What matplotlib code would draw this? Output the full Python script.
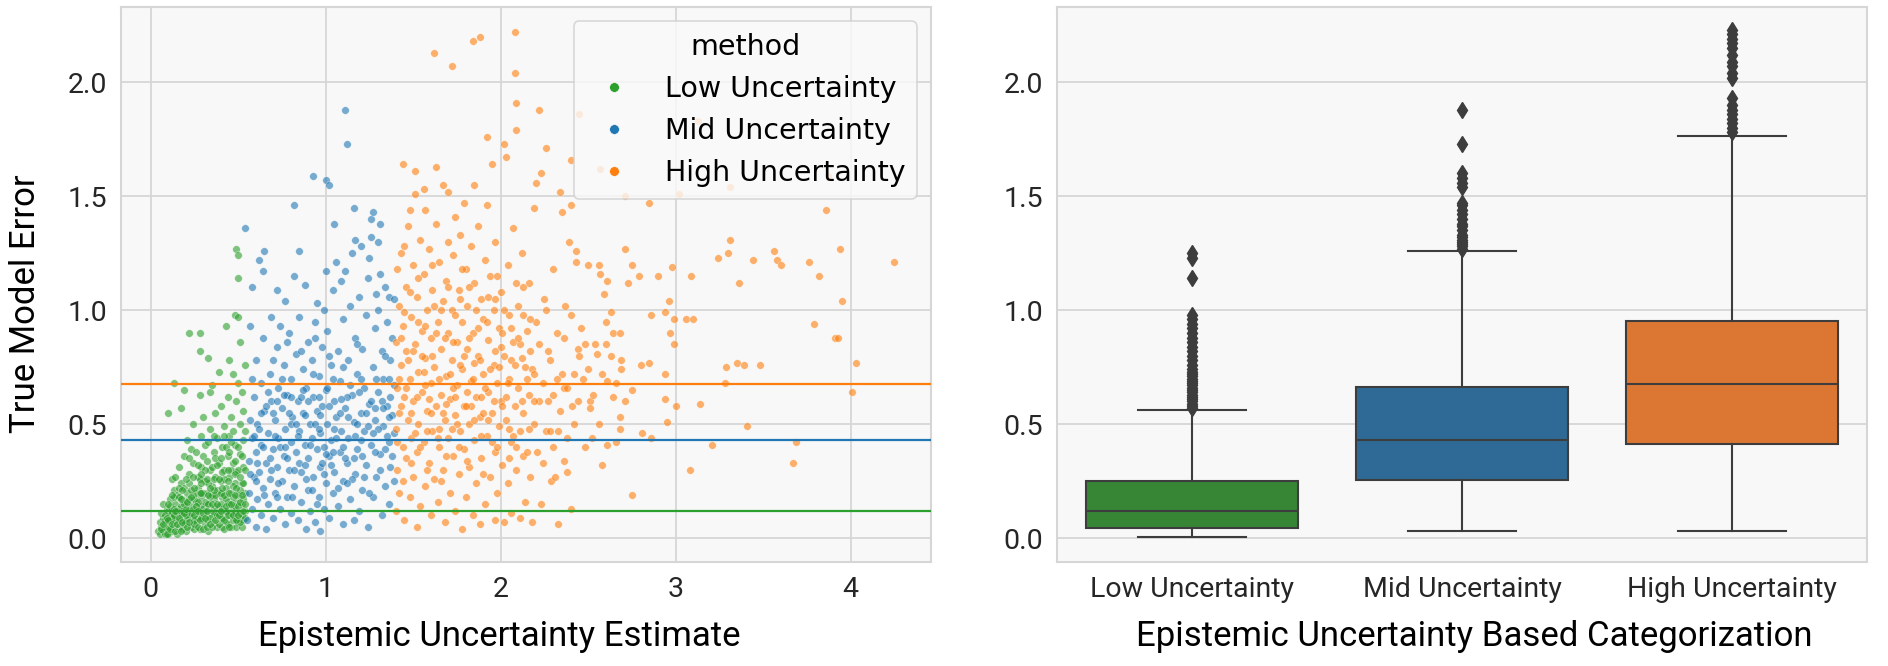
import numpy as np
import matplotlib.pyplot as plt
from matplotlib.lines import Line2D

# scatter points (epistemic uncertainty, true error)
low_pts = [
    (0.04, 0.03), (0.05, 0.02), (0.06, 0.05), (0.05, 0.07), (0.07, 0.03), (0.07, 0.09), (0.08, 0.02), (0.06, 0.11),
    (0.08, 0.06), (0.09, 0.13), (0.07, 0.15), (0.10, 0.02), (0.10, 0.05), (0.11, 0.08), (0.10, 0.12), (0.11, 0.17),
    (0.12, 0.03), (0.12, 0.11), (0.13, 0.21), (0.12, 0.26), (0.10, 0.55), (0.13, 0.68), (0.11, 0.14), (0.13, 0.06),
    (0.14, 0.15), (0.14, 0.27), (0.15, 0.02), (0.15, 0.09), (0.16, 0.05), (0.16, 0.13), (0.15, 0.19), (0.17, 0.24),
    (0.17, 0.57), (0.16, 0.31), (0.18, 0.04), (0.18, 0.10), (0.18, 0.17), (0.19, 0.36), (0.19, 0.65), (0.17, 0.08),
    (0.19, 0.22), (0.20, 0.03), (0.20, 0.07), (0.21, 0.12), (0.20, 0.16), (0.21, 0.20), (0.22, 0.28), (0.21, 0.43),
    (0.22, 0.90), (0.23, 0.05), (0.23, 0.14), (0.24, 0.09), (0.24, 0.19), (0.24, 0.33), (0.24, 0.50), (0.23, 0.39),
    (0.22, 0.24), (0.25, 0.12), (0.25, 0.04), (0.26, 0.07), (0.26, 0.16), (0.27, 0.22), (0.27, 0.27), (0.28, 0.11),
    (0.28, 0.63), (0.28, 0.82), (0.28, 0.90), (0.28, 0.04), (0.29, 0.31), (0.29, 0.45), (0.29, 0.18), (0.30, 0.09),
    (0.30, 0.36), (0.30, 0.13), (0.30, 0.53), (0.31, 0.06), (0.31, 0.25), (0.31, 0.41), (0.32, 0.15), (0.32, 0.20),
    (0.33, 0.79), (0.33, 0.03), (0.33, 0.10), (0.34, 0.30), (0.34, 0.48), (0.34, 0.64), (0.35, 0.67), (0.35, 0.12),
    (0.35, 0.23), (0.36, 0.07), (0.36, 0.17), (0.36, 0.38), (0.37, 0.55), (0.37, 0.27), (0.37, 0.10), (0.38, 0.44),
    (0.38, 0.21), (0.38, 0.05), (0.39, 0.73), (0.39, 0.14), (0.39, 0.33), (0.40, 0.09), (0.40, 0.25), (0.40, 0.58),
    (0.41, 0.18), (0.41, 0.40), (0.41, 0.05), (0.42, 0.12), (0.42, 0.30), (0.42, 0.49), (0.43, 0.93), (0.43, 0.22),
    (0.43, 0.07), (0.44, 0.16), (0.44, 0.36), (0.44, 0.62), (0.45, 0.78), (0.45, 0.10), (0.45, 0.27), (0.45, 0.45),
    (0.46, 0.05), (0.46, 0.20), (0.46, 0.53), (0.47, 0.13), (0.47, 0.33), (0.47, 0.72), (0.48, 0.09), (0.48, 0.24),
    (0.48, 0.41), (0.48, 0.98), (0.49, 0.16), (0.49, 0.60), (0.49, 0.29), (0.49, 1.27), (0.50, 1.24), (0.50, 0.07),
    (0.50, 0.19), (0.50, 0.68), (0.50, 0.97), (0.50, 1.14), (0.51, 0.37), (0.51, 0.86), (0.51, 0.11), (0.51, 0.50),
    (0.52, 0.24), (0.52, 0.64), (0.52, 0.15), (0.53, 0.08), (0.53, 0.43), (0.53, 0.31), (0.53, 0.56), (0.54, 0.20),
    (0.54, 0.12), (0.54, 0.76), (0.54, 0.47), (0.52, 0.36), (0.09, 0.04), (0.11, 0.10), (0.14, 0.08), (0.17, 0.14),
    (0.19, 0.06), (0.22, 0.10), (0.25, 0.17), (0.27, 0.09), (0.29, 0.14), (0.32, 0.08), (0.34, 0.18), (0.36, 0.11),
    (0.39, 0.20), (0.41, 0.13), (0.43, 0.17), (0.46, 0.11), (0.48, 0.14), (0.51, 0.21), (0.53, 0.17), (0.13, 0.18),
    (0.21, 0.09), (0.26, 0.20), (0.31, 0.16), (0.37, 0.14), (0.44, 0.06), (0.49, 0.05), (0.16, 0.22), (0.23, 0.21),
    (0.28, 0.26), (0.33, 0.24), (0.40, 0.15), (0.47, 0.23), (0.52, 0.05), (0.35, 0.31), (0.42, 0.26), (0.30, 0.20),
    (0.25, 0.08), (0.18, 0.12), (0.12, 0.09), (0.08, 0.10),
    (0.06, 0.04), (0.08, 0.08), (0.09, 0.02), (0.10, 0.15), (0.11, 0.04), (0.12, 0.19), (0.13, 0.13), (0.14, 0.03),
    (0.15, 0.12), (0.16, 0.18), (0.17, 0.03), (0.17, 0.11), (0.18, 0.21), (0.19, 0.15), (0.20, 0.10), (0.20, 0.26),
    (0.21, 0.05), (0.22, 0.17), (0.22, 0.35), (0.23, 0.11), (0.24, 0.27), (0.25, 0.06), (0.25, 0.22), (0.26, 0.12),
    (0.26, 0.38), (0.27, 0.05), (0.27, 0.16), (0.28, 0.20), (0.29, 0.09), (0.29, 0.24), (0.30, 0.04), (0.31, 0.12),
    (0.31, 0.30), (0.32, 0.05), (0.32, 0.26), (0.33, 0.15), (0.33, 0.42), (0.34, 0.09), (0.35, 0.19), (0.35, 0.05),
    (0.36, 0.26), (0.37, 0.19), (0.38, 0.10), (0.38, 0.32), (0.39, 0.06), (0.40, 0.20), (0.41, 0.09), (0.41, 0.29),
    (0.42, 0.04), (0.42, 0.19), (0.43, 0.12), (0.44, 0.25), (0.45, 0.15), (0.45, 0.05), (0.46, 0.30), (0.47, 0.08),
    (0.47, 0.18), (0.48, 0.34), (0.49, 0.11), (0.49, 0.22), (0.50, 0.14), (0.50, 0.30), (0.51, 0.07), (0.52, 0.10),
    (0.53, 0.24), (0.54, 0.09), (0.54, 0.30), (0.43, 0.40), (0.37, 0.35), (0.46, 0.42),
    (0.07, 0.06), (0.09, 0.09), (0.10, 0.08), (0.12, 0.06), (0.13, 0.10), (0.14, 0.12), (0.15, 0.06), (0.16, 0.09),
    (0.17, 0.17), (0.18, 0.07), (0.19, 0.11), (0.20, 0.13), (0.21, 0.16), (0.22, 0.07), (0.23, 0.18), (0.24, 0.13),
    (0.25, 0.10), (0.26, 0.14), (0.27, 0.12), (0.28, 0.08), (0.29, 0.20), (0.30, 0.11), (0.31, 0.09), (0.32, 0.12),
    (0.33, 0.19), (0.34, 0.06), (0.35, 0.15), (0.36, 0.21), (0.37, 0.08), (0.38, 0.15), (0.39, 0.10), (0.40, 0.12),
    (0.41, 0.22), (0.42, 0.08), (0.43, 0.14), (0.44, 0.10), (0.45, 0.20), (0.46, 0.15), (0.47, 0.10), (0.48, 0.19),
    (0.49, 0.08), (0.50, 0.10), (0.51, 0.16), (0.52, 0.19), (0.53, 0.12), (0.54, 0.15), (0.44, 0.30), (0.39, 0.26),
    (0.34, 0.22), (0.29, 0.28), (0.48, 0.28), (0.51, 0.27), (0.40, 0.35), (0.45, 0.38), (0.50, 0.40), (0.42, 0.45),
    (0.47, 0.47), (0.36, 0.45), (0.32, 0.34), (0.27, 0.32),
]

mid_pts = [
    (0.55, 0.08), (0.56, 0.20), (0.56, 0.34), (0.57, 0.52), (0.57, 0.93), (0.58, 0.13), (0.58, 0.44), (0.58, 1.10),
    (0.59, 0.27), (0.59, 0.62), (0.60, 0.05), (0.60, 0.38), (0.60, 0.78), (0.61, 0.17), (0.61, 0.50), (0.62, 0.29),
    (0.62, 1.22), (0.63, 0.10), (0.63, 0.68), (0.63, 0.41), (0.64, 0.22), (0.64, 0.88), (0.64, 1.17), (0.65, 0.56),
    (0.65, 1.26), (0.66, 0.04), (0.66, 0.33), (0.54, 1.36), (0.67, 0.46), (0.67, 0.15), (0.68, 0.72), (0.68, 0.26),
    (0.69, 0.60), (0.69, 0.97), (0.70, 0.09), (0.70, 0.39), (0.71, 0.20), (0.71, 0.52), (0.72, 0.84), (0.72, 1.09),
    (0.72, 0.31), (0.73, 0.66), (0.73, 0.44), (0.74, 0.13), (0.74, 0.93), (0.75, 0.25), (0.75, 0.57), (0.76, 0.36),
    (0.76, 0.76), (0.77, 0.06), (0.77, 1.04), (0.77, 0.48), (0.78, 0.18), (0.78, 0.63), (0.79, 0.30), (0.79, 0.90),
    (0.80, 0.42), (0.80, 0.11), (0.80, 0.70), (0.81, 0.53), (0.82, 1.46), (0.82, 0.23), (0.82, 1.15), (0.83, 0.81),
    (0.83, 0.38), (0.84, 0.08), (0.84, 0.60), (0.85, 1.26), (0.85, 0.47), (0.85, 0.97), (0.86, 0.16), (0.86, 0.29),
    (0.87, 0.74), (0.87, 0.55), (0.88, 0.41), (0.88, 1.11), (0.89, 0.04), (0.89, 0.66), (0.90, 0.21), (0.90, 0.86),
    (0.90, 0.35), (0.91, 0.50), (0.91, 0.12), (0.92, 0.78), (0.92, 0.44), (0.93, 1.59), (0.93, 0.27), (0.93, 0.62),
    (0.94, 0.95), (0.94, 0.07), (0.95, 0.39), (0.95, 1.03), (0.95, 0.56), (0.96, 0.18), (0.96, 0.71), (0.97, 0.03),
    (0.97, 0.46), (0.97, 0.31), (0.98, 0.84), (0.98, 0.58), (0.99, 1.00), (0.99, 0.13), (0.99, 0.40), (1.00, 1.57),
    (1.00, 1.17), (1.00, 0.24), (1.00, 0.65), (1.01, 0.50), (1.01, 0.91), (1.02, 1.55), (1.02, 0.36), (1.02, 0.09),
    (1.03, 0.76), (1.03, 0.43), (1.04, 0.20), (1.04, 1.09), (1.05, 0.60), (1.05, 1.38), (1.05, 0.29), (1.06, 1.21),
    (1.06, 0.53), (1.07, 0.14), (1.07, 0.82), (1.08, 0.38), (1.08, 0.69), (1.09, 0.47), (1.09, 1.13), (1.10, 0.06),
    (1.10, 0.25), (1.10, 0.96), (1.11, 1.88), (1.11, 0.57), (1.11, 1.17), (1.12, 1.73), (1.12, 0.33), (1.13, 0.78),
    (1.13, 0.44), (1.14, 0.17), (1.14, 1.02), (1.15, 0.63), (1.15, 1.25), (1.16, 1.45), (1.16, 0.51), (1.16, 0.08),
    (1.17, 0.88), (1.17, 1.31), (1.17, 0.28), (1.18, 0.39), (1.18, 0.72), (1.19, 0.12), (1.19, 1.06), (1.20, 1.28),
    (1.20, 0.55), (1.21, 0.21), (1.21, 0.83), (1.22, 0.47), (1.22, 0.66), (1.23, 0.32), (1.23, 0.98), (1.24, 0.05),
    (1.24, 1.14), (1.25, 0.59), (1.25, 1.23), (1.26, 1.40), (1.26, 0.41), (1.26, 1.32), (1.27, 1.43), (1.27, 0.75),
    (1.27, 0.18), (1.28, 0.52), (1.28, 0.92), (1.29, 0.27), (1.29, 1.07), (1.30, 0.64), (1.30, 1.30), (1.30, 1.00),
    (1.31, 0.37), (1.31, 1.16), (1.31, 1.38), (1.32, 0.10), (1.32, 0.82), (1.33, 0.49), (1.33, 0.70), (1.34, 1.10),
    (1.34, 0.23), (1.35, 0.58), (1.35, 0.95), (1.36, 0.42), (1.36, 0.15), (1.36, 1.06), (1.37, 0.78), (1.37, 0.31),
    (1.38, 0.54), (1.38, 0.88), (1.39, 0.46), (1.39, 0.67), (1.39, 1.05), (0.62, 0.48), (0.70, 0.55), (0.78, 0.35),
    (0.86, 0.62), (0.94, 0.50), (1.02, 0.58), (1.10, 0.40), (1.18, 0.50), (1.26, 0.60), (1.34, 0.39), (0.66, 0.58),
    (0.74, 0.40), (0.82, 0.30), (0.90, 0.60), (0.98, 0.33), (1.06, 0.44), (1.14, 0.67), (1.22, 0.27), (1.30, 0.48),
    (1.38, 0.36), (0.60, 0.25), (0.68, 0.35), (0.76, 0.63), (0.84, 0.45), (0.92, 0.21), (1.00, 0.37), (1.08, 0.55),
    (1.16, 0.35), (1.24, 0.49), (1.32, 0.60), (0.88, 0.54), (0.96, 0.62), (1.04, 0.70), (1.12, 0.62), (1.20, 0.43),
    (1.28, 0.38), (0.72, 0.60), (0.80, 0.50), (0.58, 0.70), (1.36, 0.70),
    (0.57, 0.28), (0.59, 0.45), (0.61, 0.33), (0.63, 0.55), (0.65, 0.19), (0.67, 0.64), (0.69, 0.30), (0.71, 0.45),
    (0.73, 0.24), (0.75, 0.70), (0.77, 0.40), (0.79, 0.55), (0.81, 0.18), (0.83, 0.50), (0.85, 0.33), (0.87, 0.65),
    (0.89, 0.26), (0.91, 0.41), (0.93, 0.72), (0.95, 0.15), (0.97, 0.54), (0.99, 0.28), (1.01, 0.66), (1.03, 0.32),
    (1.05, 0.48), (1.07, 0.22), (1.09, 0.61), (1.11, 0.35), (1.13, 0.53), (1.15, 0.26), (1.17, 0.45), (1.19, 0.64),
    (1.21, 0.36), (1.23, 0.55), (1.25, 0.20), (1.27, 0.46), (1.29, 0.70), (1.31, 0.30), (1.33, 0.57), (1.35, 0.45),
    (1.37, 0.62), (1.39, 0.25), (0.64, 0.40), (0.72, 0.18), (0.80, 0.62), (0.88, 0.32), (0.96, 0.48), (1.04, 0.38),
    (1.12, 0.24), (1.20, 0.70), (1.28, 0.57), (1.36, 0.53), (0.70, 0.78), (0.86, 0.82), (1.02, 0.80), (1.18, 0.85),
    (1.34, 0.80), (0.78, 0.86), (0.94, 0.88), (1.10, 0.75),
]

high_pts = [
    (1.40, 0.12), (1.40, 0.48), (1.40, 0.86), (1.41, 1.18), (1.41, 0.30), (1.41, 0.66), (1.42, 1.02), (1.42, 0.20),
    (1.42, 0.55), (1.43, 0.76), (1.43, 1.25), (1.44, 0.40), (1.44, 1.64), (1.44, 0.93), (1.45, 0.08), (1.45, 0.62),
    (1.46, 0.35), (1.46, 1.10), (1.46, 0.82), (1.47, 0.52), (1.47, 1.37), (1.48, 0.18), (1.48, 1.44), (1.48, 0.70),
    (1.49, 0.44), (1.49, 0.97), (1.50, 1.20), (1.50, 0.27), (1.50, 0.60), (1.51, 1.51), (1.51, 0.85), (1.51, 1.61),
    (1.52, 0.38), (1.52, 0.05), (1.52, 1.06), (1.53, 0.73), (1.53, 0.50), (1.54, 0.14), (1.54, 1.31), (1.55, 0.91),
    (1.55, 0.64), (1.56, 1.53), (1.56, 0.42), (1.56, 1.16), (1.57, 1.44), (1.57, 0.23), (1.57, 0.79), (1.58, 0.56),
    (1.58, 1.00), (1.59, 0.33), (1.59, 1.27), (1.60, 0.10), (1.60, 0.68), (1.60, 0.88), (1.61, 0.47), (1.61, 1.09),
    (1.62, 2.13), (1.62, 0.26), (1.62, 0.75), (1.63, 1.63), (1.63, 1.38), (1.63, 0.58), (1.64, 0.16), (1.64, 0.95),
    (1.65, 0.40), (1.65, 1.21), (1.66, 0.63), (1.66, 0.83), (1.67, 1.55), (1.67, 0.30), (1.67, 1.04), (1.68, 0.52),
    (1.68, 0.07), (1.69, 1.13), (1.69, 0.71), (1.70, 1.52), (1.70, 0.44), (1.70, 0.90), (1.70, 1.30), (1.71, 0.20),
    (1.71, 0.61), (1.72, 2.07), (1.72, 1.00), (1.72, 0.78), (1.73, 0.36), (1.73, 1.24), (1.74, 0.54), (1.74, 0.12),
    (1.74, 1.41), (1.75, 0.86), (1.75, 0.67), (1.76, 0.28), (1.76, 1.09), (1.77, 0.47), (1.77, 1.33), (1.78, 0.04),
    (1.78, 0.74), (1.78, 0.95), (1.79, 1.47), (1.79, 0.39), (1.79, 0.58), (1.80, 1.18), (1.80, 0.18), (1.81, 0.83),
    (1.81, 1.02), (1.82, 0.50), (1.82, 0.31), (1.83, 1.28), (1.83, 0.69), (1.84, 2.18), (1.84, 0.10), (1.84, 0.90),
    (1.85, 1.55), (1.85, 0.43), (1.85, 1.12), (1.86, 0.62), (1.86, 0.24), (1.87, 0.80), (1.87, 1.37), (1.88, 2.20),
    (1.88, 0.06), (1.88, 0.53), (1.89, 1.05), (1.89, 0.35), (1.90, 0.72), (1.90, 0.96), (1.91, 1.22), (1.91, 0.15),
    (1.92, 1.76), (1.92, 1.46), (1.92, 0.45), (1.93, 0.64), (1.93, 0.87), (1.94, 0.27), (1.94, 1.15), (1.95, 1.64),
    (1.95, 0.55), (1.96, 0.76), (1.96, 1.00), (1.97, 0.08), (1.97, 0.38), (1.97, 1.30), (1.98, 0.68), (1.98, 0.20),
    (1.99, 0.92), (1.99, 0.49), (2.00, 1.08), (2.00, 0.60), (2.01, 0.32), (2.02, 1.73), (2.02, 0.80), (2.02, 0.07),
    (2.03, 1.67), (2.03, 0.52), (2.04, 1.20), (2.04, 0.24), (2.05, 0.70), (2.05, 0.98), (2.06, 0.42), (2.06, 0.11),
    (2.07, 1.36), (2.07, 0.86), (2.08, 2.22), (2.08, 2.04), (2.08, 0.58), (2.09, 1.91), (2.09, 1.79), (2.09, 0.30),
    (2.10, 1.02), (2.10, 0.66), (2.11, 0.09), (2.11, 0.47), (2.12, 1.25), (2.12, 0.79), (2.13, 0.36), (2.13, 0.55),
    (2.14, 0.16), (2.15, 0.91), (2.15, 0.38), (2.16, 1.12), (2.16, 0.63), (2.17, 0.27), (2.18, 0.74), (2.18, 0.07),
    (2.19, 1.45), (2.19, 0.50), (2.20, 1.56), (2.20, 0.95), (2.22, 1.88), (2.22, 0.60), (2.23, 1.60), (2.23, 0.15),
    (2.24, 0.33), (2.25, 1.05), (2.26, 1.71), (2.26, 0.47), (2.27, 0.82), (2.27, 0.60), (2.28, 0.47), (2.29, 0.25),
    (2.30, 0.63), (2.30, 1.18), (2.31, 0.27), (2.32, 0.90), (2.33, 0.06), (2.33, 0.47), (2.34, 1.52), (2.35, 1.43),
    (2.35, 0.72), (2.36, 0.66), (2.36, 0.34), (2.37, 1.02), (2.38, 0.44), (2.38, 0.29), (2.39, 1.30), (2.40, 0.13),
    (2.40, 1.66), (2.40, 1.46), (2.41, 0.58), (2.42, 0.72), (2.43, 1.26), (2.43, 1.21), (2.44, 0.83), (2.45, 0.80),
    (2.45, 1.86), (2.47, 0.70), (2.48, 0.85), (2.50, 1.20), (2.51, 0.60), (2.51, 0.57), (2.52, 0.44), (2.54, 0.85),
    (2.55, 0.81), (2.56, 1.20), (2.57, 1.16), (2.57, 1.62), (2.58, 0.32), (2.58, 0.72), (2.59, 1.07), (2.60, 0.85),
    (2.61, 0.69), (2.61, 1.13), (2.61, 0.41), (2.63, 0.99), (2.64, 0.62), (2.64, 0.90), (2.66, 0.68), (2.68, 0.90),
    (2.68, 0.53), (2.68, 0.48), (2.69, 0.74), (2.69, 0.78), (2.71, 0.60), (2.71, 1.27), (2.71, 1.50), (2.73, 1.12),
    (2.75, 0.19), (2.75, 0.65), (2.75, 1.20), (2.79, 1.15), (2.80, 0.76), (2.81, 0.46), (2.85, 0.77), (2.85, 1.47),
    (2.86, 0.44), (2.86, 0.98), (2.90, 1.15), (2.94, 0.72), (2.94, 0.99), (2.94, 0.61), (2.95, 0.51), (2.96, 1.04),
    (2.97, 0.90), (2.98, 1.19), (2.99, 0.85), (2.99, 0.96), (3.00, 0.58), (3.02, 1.51), (3.06, 0.96), (3.08, 0.30),
    (3.09, 1.15), (3.10, 0.96), (3.13, 1.83), (3.14, 0.59), (3.21, 0.41), (3.24, 1.23), (3.28, 0.68), (3.29, 0.75),
    (3.30, 1.25), (3.31, 1.31), (3.31, 1.54), (3.35, 0.77), (3.36, 1.12), (3.39, 0.76), (3.41, 0.49), (3.44, 1.22),
    (3.48, 0.76), (3.56, 1.26), (3.58, 1.22), (3.60, 1.20), (3.67, 0.33), (3.69, 0.42), (3.76, 1.21), (3.79, 0.94),
    (3.82, 1.15), (3.86, 1.44), (3.87, 1.59), (3.91, 0.88), (3.93, 0.88), (3.94, 1.27), (3.95, 1.04), (4.01, 0.64),
    (4.03, 0.77), (4.25, 1.21), (1.43, 0.58), (1.47, 0.78), (1.51, 0.46), (1.55, 0.80), (1.59, 0.61), (1.63, 0.90),
    (1.67, 0.55), (1.71, 0.72), (1.75, 0.50), (1.79, 0.80), (1.83, 0.58), (1.87, 0.92), (1.91, 0.66), (1.95, 0.42),
    (1.99, 0.75), (2.03, 0.62), (2.07, 0.45), (2.11, 0.85), (2.15, 0.70), (2.19, 0.60), (1.45, 0.99), (1.53, 0.95),
    (1.61, 1.20), (1.69, 0.36), (1.77, 1.05), (1.85, 0.77), (1.93, 1.06), (2.01, 0.90), (2.09, 1.12), (2.17, 0.82),
    (1.49, 0.33), (1.57, 0.67), (1.65, 0.48), (1.73, 0.86), (1.81, 0.64), (1.89, 0.45), (1.97, 0.82), (2.05, 0.35),
    (2.13, 0.98), (1.42, 0.70), (1.58, 0.47), (1.66, 1.00), (1.74, 0.62), (1.82, 1.10), (1.90, 0.55), (1.98, 1.15),
    (2.06, 0.78),
    (1.41, 0.42), (1.43, 0.88), (1.44, 0.25), (1.46, 0.66), (1.48, 1.08), (1.49, 0.55), (1.50, 0.82), (1.52, 0.62),
    (1.53, 1.14), (1.54, 0.40), (1.56, 0.73), (1.57, 0.93), (1.58, 0.30), (1.60, 0.55), (1.61, 0.80), (1.62, 1.02),
    (1.64, 0.44), (1.65, 0.70), (1.66, 0.25), (1.68, 0.88), (1.69, 0.59), (1.70, 1.10), (1.72, 0.48), (1.73, 0.66),
    (1.74, 0.98), (1.76, 0.40), (1.77, 0.76), (1.78, 1.18), (1.80, 0.58), (1.81, 0.34), (1.82, 0.88), (1.84, 0.70),
    (1.85, 0.52), (1.86, 1.00), (1.88, 0.78), (1.89, 0.62), (1.90, 0.28), (1.92, 0.95), (1.93, 0.52), (1.94, 0.74),
    (1.96, 0.60), (1.97, 1.05), (1.98, 0.40), (2.00, 0.84), (2.01, 0.58), (2.02, 1.00), (2.04, 0.68), (2.05, 0.48),
    (2.06, 0.92), (2.08, 0.76), (2.09, 0.40), (2.10, 0.88), (2.12, 0.60), (2.13, 1.10), (2.14, 0.75), (2.16, 0.48),
    (2.17, 0.96), (2.19, 0.72), (2.21, 0.38), (2.22, 0.85), (2.24, 0.68), (2.26, 1.00), (2.28, 0.78), (2.30, 0.40),
    (2.32, 0.70), (2.34, 0.56), (2.36, 0.88), (2.38, 0.66), (2.40, 0.98), (2.42, 0.50), (2.44, 0.60), (2.46, 0.92),
    (2.48, 0.40), (2.50, 0.74), (2.53, 0.63), (2.56, 0.50), (2.60, 0.95), (2.63, 0.80), (2.66, 0.42), (1.45, 1.28),
]

categories = ['Low Uncertainty', 'Mid Uncertainty', 'High Uncertainty']
medians = [0.118, 0.430, 0.675]
q1s = [0.045, 0.254, 0.412]
q3s = [0.251, 0.661, 0.952]
whis_lo = [0.006, 0.031, 0.032]
whis_hi = [0.561, 1.260, 1.763]
fliers = [
    [0.57, 0.58, 0.59, 0.60, 0.61, 0.62, 0.63, 0.64, 0.65, 0.66, 0.67, 0.68, 0.69, 0.70, 0.71, 0.72, 0.73,
     0.74, 0.76, 0.78, 0.80, 0.82, 0.84, 0.86, 0.88, 0.90, 0.92, 0.94, 0.96, 0.98, 1.14, 1.23, 1.25],
    [1.27, 1.28, 1.29, 1.30, 1.31, 1.32, 1.33, 1.35, 1.37, 1.38, 1.40, 1.42, 1.44, 1.46, 1.47, 1.54, 1.56,
     1.58, 1.60, 1.73, 1.88],
    [1.78, 1.80, 1.82, 1.84, 1.86, 1.88, 1.90, 1.93, 2.02, 2.04, 2.07, 2.09, 2.12, 2.15, 2.17, 2.19, 2.21, 2.23],
]

colors = ['tab:green', 'tab:blue', 'tab:orange']
box_colors = ['#368636', '#2e6a95', '#dc7733']

grid_c = '#d6d6d6'
bg = '#f8f8f8'
dark = '#3d3d3d'
tick_font = dict(family='Roboto', size=20.5, color='#262626')
label_font = dict(family='Roboto', size=25, color='black')

fig, (ax1, ax2) = plt.subplots(1, 2, figsize=(18.88, 6.66), dpi=100)
plt.subplots_adjust(left=0.0641, right=0.9889, bottom=0.156, top=0.9895, wspace=0.1556)

for ax in (ax1, ax2):
    ax.set_facecolor(bg)
    for s in ax.spines.values():
        s.set_color(grid_c)
        s.set_linewidth(1.5)
    ax.set_axisbelow(True)
    ax.grid(True, axis='y', color=grid_c, lw=1.3)
    ax.tick_params(length=0, pad=10)
    ax.set_ylim(-0.105, 2.33)
    ax.set_yticks([0.0, 0.5, 1.0, 1.5, 2.0])
    ax.set_yticklabels(['0.0', '0.5', '1.0', '1.5', '2.0'], **tick_font)

# left: scatter
ax1.grid(True, axis='x', color=grid_c, lw=1.3)
for pts, c, name in zip([low_pts, mid_pts, high_pts], colors, categories):
    arr = np.array(pts)
    ax1.scatter(arr[:, 0], arr[:, 1], s=30, color=c, alpha=0.6, edgecolors='white', linewidths=0.4,
                label=name, zorder=2)
for m, c in zip(medians, colors):
    ax1.axhline(m, color=c, lw=1.6, zorder=3)
ax1.set_xlim(-0.17, 4.46)
ax1.set_xticks([0, 1, 2, 3, 4])
ax1.set_xticklabels(['0', '1', '2', '3', '4'], **tick_font)
ax1.set_xlabel('Epistemic Uncertainty Estimate', **label_font)
ax1.set_ylabel('True Model Error', **label_font)
ax1.xaxis.set_label_coords(0.467, -0.105)
ax1.yaxis.set_label_coords(-0.097, 0.465)

handles = [Line2D([], [], ls='none', marker='o', ms=7, color=c, mec='white', mew=0.4) for c in colors]
leg = ax1.legend(handles, categories, title='method', loc='upper right',
                 title_fontsize=20.5, prop={'family': 'DejaVu Sans', 'size': 20.5},
                 framealpha=0.8, edgecolor='#d0d0d0', facecolor='#fafafa')
leg.get_title().set_family('DejaVu Sans')
leg.get_frame().set_linewidth(1.2)

# right: box plot from read statistics
stats = []
for i, name in enumerate(categories):
    stats.append({'label': name, 'med': medians[i], 'q1': q1s[i], 'q3': q3s[i],
                  'whislo': whis_lo[i], 'whishi': whis_hi[i], 'fliers': fliers[i]})
bp = ax2.bxp(stats, positions=[0, 1, 2], widths=0.785, patch_artist=True,
             boxprops=dict(edgecolor=dark, lw=1.5),
             medianprops=dict(color=dark, lw=1.5),
             whiskerprops=dict(color=dark, lw=1.5),
             capprops=dict(color=dark, lw=1.5),
             flierprops=dict(marker='d', markerfacecolor=dark, markeredgecolor=dark, markersize=8))
for patch, c in zip(bp['boxes'], box_colors):
    patch.set_facecolor(c)
for cap in bp['caps']:
    xd = cap.get_xdata()
    mid = (xd[0] + xd[1]) / 2
    cap.set_xdata([mid - 0.2, mid + 0.2])
ax2.set_xlim(-0.5, 2.5)
ax2.set_xticks([0, 1, 2])
ax2.set_xticklabels(categories, **tick_font)
ax2.set_xlabel('Epistemic Uncertainty Based Categorization', **label_font)
ax2.xaxis.set_label_coords(0.515, -0.105)

plt.savefig('out.png', dpi=100)
